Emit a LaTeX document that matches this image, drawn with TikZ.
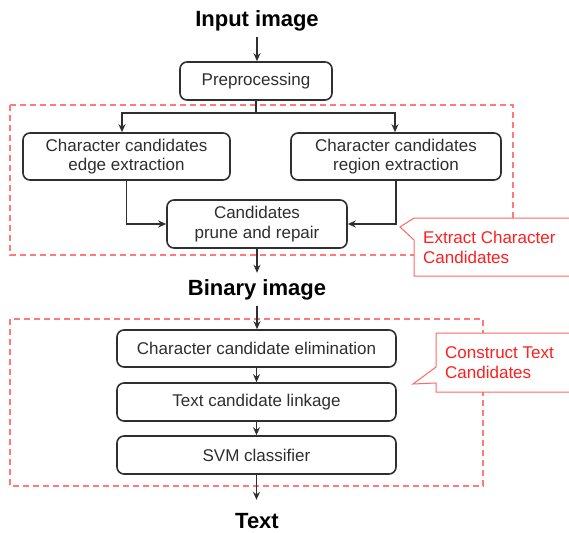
\documentclass[tikz,border=0pt]{standalone}
\usepackage{fontspec}
\setmainfont{Liberation Sans}
\usetikzlibrary{arrows.meta}
\definecolor{boxline}{HTML}{2F2F2F}
\definecolor{textgray}{HTML}{2E2E2E}
\definecolor{grpred}{HTML}{FF7A7A}
\definecolor{callred}{HTML}{FF6666}
\definecolor{txtred}{HTML}{FF1F1F}
\begin{document}
\begin{tikzpicture}[x=1pt,y=-1pt,
  box/.style={draw=boxline, line width=1.6pt, rounded corners=7pt, inner sep=0pt, align=center, text=textgray, font=\fontsize{17}{19.5}\selectfont},
  lbl/.style={font=\bfseries\fontsize{22}{26}\selectfont, inner sep=3pt, text height=16pt, text depth=5pt, anchor=base},
  arr/.style={-{Stealth[length=8pt,width=7pt]}, line width=1.4pt, draw=boxline},
  grp/.style={draw=grpred, dash pattern=on 6pt off 4pt, line width=1.2pt},
  callout/.style={draw=callred, fill=white, line width=1pt},
  ctext/.style={text=txtred, font=\fontsize{17}{19.5}\selectfont, align=left, anchor=west, inner sep=0pt}]
\useasboundingbox (0,0) rectangle (569,532);

% group frames
\draw[grp] (10,105) rectangle (513,255);
\draw[grp] (10,319) rectangle (483,486);

% labels
\node[lbl] (in) at (257,27) {Input image};
\node[lbl] (bin) at (257,295) {Binary image};
\node[lbl] (txt) at (257,528) {Text};

% boxes
\node[box, minimum width=152pt, minimum height=38pt] (pre) at (256,81) {Preprocessing};
\node[box, minimum width=207pt, minimum height=47pt] (lb) at (126.5,156.5) {Character candidates\\edge extraction};
\node[box, minimum width=210pt, minimum height=47pt] (rb) at (396,156.5) {Character candidates\\region extraction};
\node[box, minimum width=180pt, minimum height=48pt] (pr) at (257,224) {Candidates\\prune and repair};
\node[box, minimum width=279pt, minimum height=37pt] (cce) at (256.5,348.5) {Character candidate elimination};
\node[box, minimum width=279pt, minimum height=38pt] (tcl) at (256.5,402) {Text candidate linkage};
\node[box, minimum width=279pt, minimum height=38pt] (svm) at (256.5,455) {SVM classifier};

% connectors
\coordinate (br) at (256,113);
\draw[arr, shorten <=2pt] (in.south) -- (in.south |- pre.north);
\draw[line width=1.4pt, draw=boxline] (pre.south) -- (br);
\draw[arr] (br) -| ([xshift=-4.5pt]lb.north);
\draw[arr] (br) -| ([xshift=-1pt]rb.north);
\draw[arr] (lb.south) |- (pr.west);
\draw[arr] (rb.south) |- (pr.east);
\draw[arr, shorten >=3pt] (pr.south) -- (bin.north);
\draw[arr, shorten <=3pt] (bin.south) -- (bin.south |- cce.north);
\draw[arr] (cce.south) -- (tcl.north);
\draw[arr] (tcl.south) -- (svm.north);
\draw[arr, shorten >=9pt] (svm.south) -- (svm.south |- txt.north);

% callouts
\draw[callout] (414,218) -- (600,218) -- (600,276) -- (414,276) -- (414,240) -- (400,227) -- cycle;
\node[ctext] (c1) at (423,247.5) {Extract Character\\Candidates};
\draw[callout] (436,333) -- (600,333) -- (600,392) -- (436,392) -- (436,383) -- (413,384) -- (436,367) -- cycle;
\node[ctext] (c2) at (445,362.5) {Construct Text\\Candidates};
\end{tikzpicture}
\end{document}
